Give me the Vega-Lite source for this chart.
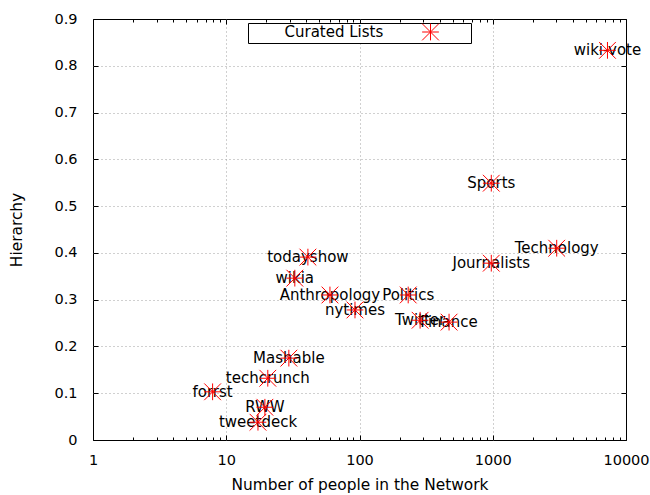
{
  "$schema": "https://vega.github.io/schema/vega-lite/v6.json",
  "width": 533,
  "height": 421,
  "autosize": {"type": "none"},
  "padding": {"left": 93, "top": 19, "right": 24, "bottom": 55},
  "background": "white",
  "config": {
    "font": "DejaVu Sans",
    "view": {"stroke": "black", "strokeWidth": 1},
    "axis": {
      "labelFont": "DejaVu Sans",
      "labelFontSize": 14.5,
      "labelColor": "black",
      "titleFont": "DejaVu Sans",
      "titleFontSize": 15.4,
      "titleFontWeight": "normal",
      "titleColor": "black",
      "tickColor": "black",
      "domain": false,
      "labelOverlap": false,
      "labelFlush": false
    }
  },
  "data": {
    "values": [
      {"list": "wiki-vote", "network": 7260, "hierarchy": 0.833, "series": "Curated Lists"},
      {"list": "Sports", "network": 975, "hierarchy": 0.549, "series": "Curated Lists"},
      {"list": "Technology", "network": 3020, "hierarchy": 0.41, "series": "Curated Lists"},
      {"list": "Journalists", "network": 975, "hierarchy": 0.378, "series": "Curated Lists"},
      {"list": "todayshow", "network": 41, "hierarchy": 0.391, "series": "Curated Lists"},
      {"list": "wikia", "network": 32.7, "hierarchy": 0.346, "series": "Curated Lists"},
      {"list": "Anthropology", "network": 60, "hierarchy": 0.31, "series": "Curated Lists"},
      {"list": "Politics", "network": 232, "hierarchy": 0.31, "series": "Curated Lists"},
      {"list": "nytimes", "network": 92.5, "hierarchy": 0.278, "series": "Curated Lists"},
      {"list": "Twitter", "network": 285, "hierarchy": 0.256, "series": "Curated Lists"},
      {"list": "Finance", "network": 470, "hierarchy": 0.252, "series": "Curated Lists"},
      {"list": "Mashable", "network": 29.5, "hierarchy": 0.175, "series": "Curated Lists"},
      {"list": "techcrunch", "network": 20.5, "hierarchy": 0.132, "series": "Curated Lists"},
      {"list": "forrst", "network": 7.9, "hierarchy": 0.103, "series": "Curated Lists"},
      {"list": "RWW", "network": 19.5, "hierarchy": 0.07, "series": "Curated Lists"},
      {"list": "tweetdeck", "network": 17.3, "hierarchy": 0.038, "series": "Curated Lists"}
    ]
  },
  "layer": [
    {
      "mark": {"type": "text", "font": "DejaVu Sans", "fontSize": 15, "color": "black", "align": "center", "baseline": "middle"},
      "encoding": {
        "x": {
          "field": "network", "type": "quantitative",
          "scale": {"type": "log", "domain": [1, 10000], "nice": false},
          "axis": {
            "orient": "top", "title": null, "labels": false, "grid": false,
            "values": [1,2,3,4,5,6,7,8,9,10,20,30,40,50,60,70,80,90,100,200,300,400,500,600,700,800,900,1000,2000,3000,4000,5000,6000,7000,8000,9000,10000],
            "tickSize": {"condition": {"test": "indexof([1,10,100,1000,10000], datum.value) >= 0", "value": -5}, "value": -3}
          }
        },
        "y": {
          "field": "hierarchy", "type": "quantitative",
          "scale": {"domain": [0, 0.9], "nice": false, "zero": false},
          "axis": {
            "orient": "right", "title": null, "labels": false, "grid": false,
            "values": [0,0.1,0.2,0.3,0.4,0.5,0.6,0.7,0.8,0.9],
            "tickSize": -5
          }
        },
        "text": {"field": "list"}
      }
    },
    {
      "mark": {
        "type": "point",
        "shape": "M-1,0L1,0M0,-1L0,1M-1,-1L1,1M-1,1L1,-1",
        "filled": false,
        "size": 280,
        "strokeWidth": 1,
        "opacity": 1
      },
      "encoding": {
        "x": {
          "field": "network", "type": "quantitative",
          "scale": {"type": "log", "domain": [1, 10000], "nice": false},
          "axis": {
            "orient": "bottom",
            "title": "Number of people in the Network",
            "values": [1,2,3,4,5,6,7,8,9,10,20,30,40,50,60,70,80,90,100,200,300,400,500,600,700,800,900,1000,2000,3000,4000,5000,6000,7000,8000,9000,10000],
            "format": "d",
            "labelExpr": "indexof([1,10,100,1000,10000], datum.value) >= 0 ? datum.label : ''",
            "grid": true,
            "gridColor": "#a0a0a0",
            "gridDash": [1, 3],
            "gridOpacity": {"condition": {"test": "indexof([10,100,1000], datum.value) >= 0", "value": 1}, "value": 0},
            "tickSize": {"condition": {"test": "indexof([1,10,100,1000,10000], datum.value) >= 0", "value": -5}, "value": -3},
            "labelPadding": 18,
            "titlePadding": 9
          }
        },
        "y": {
          "field": "hierarchy", "type": "quantitative",
          "title": "Hierarchy",
          "scale": {"domain": [0, 0.9], "nice": false, "zero": false},
          "axis": {
            "orient": "left",
            "values": [0,0.1,0.2,0.3,0.4,0.5,0.6,0.7,0.8,0.9],
            "format": ".1~f",
            "grid": true,
            "gridColor": "#a0a0a0",
            "gridDash": [1, 3],
            "gridOpacity": {"condition": {"test": "datum.value > 0.05 && datum.value < 0.85", "value": 1}, "value": 0},
            "tickSize": -5,
            "labelPadding": 21,
            "titlePadding": 29
          }
        },
        "color": {
          "field": "series", "type": "nominal",
          "scale": {"range": ["#ff0000"]},
          "legend": {
            "title": null,
            "orient": "none",
            "legendX": 155,
            "legendY": 4,
            "strokeColor": "black",
            "fillColor": "white",
            "padding": 0,
            "labelFont": "DejaVu Sans",
            "labelFontSize": 15,
            "labelColor": "black",
            "labelOffset": -155,
            "symbolOffset": 173.5,
            "symbolSize": 280,
            "symbolStrokeWidth": 1,
            "symbolType": "M-1,0L1,0M0,-1L0,1M-1,-1L1,1M-1,1L1,-1M4.6,0L4.6,0M-21.6,0L-21.6,0"
          }
        }
      }
    }
  ],
  "resolve": {"axis": {"x": "independent", "y": "independent"}}
}
